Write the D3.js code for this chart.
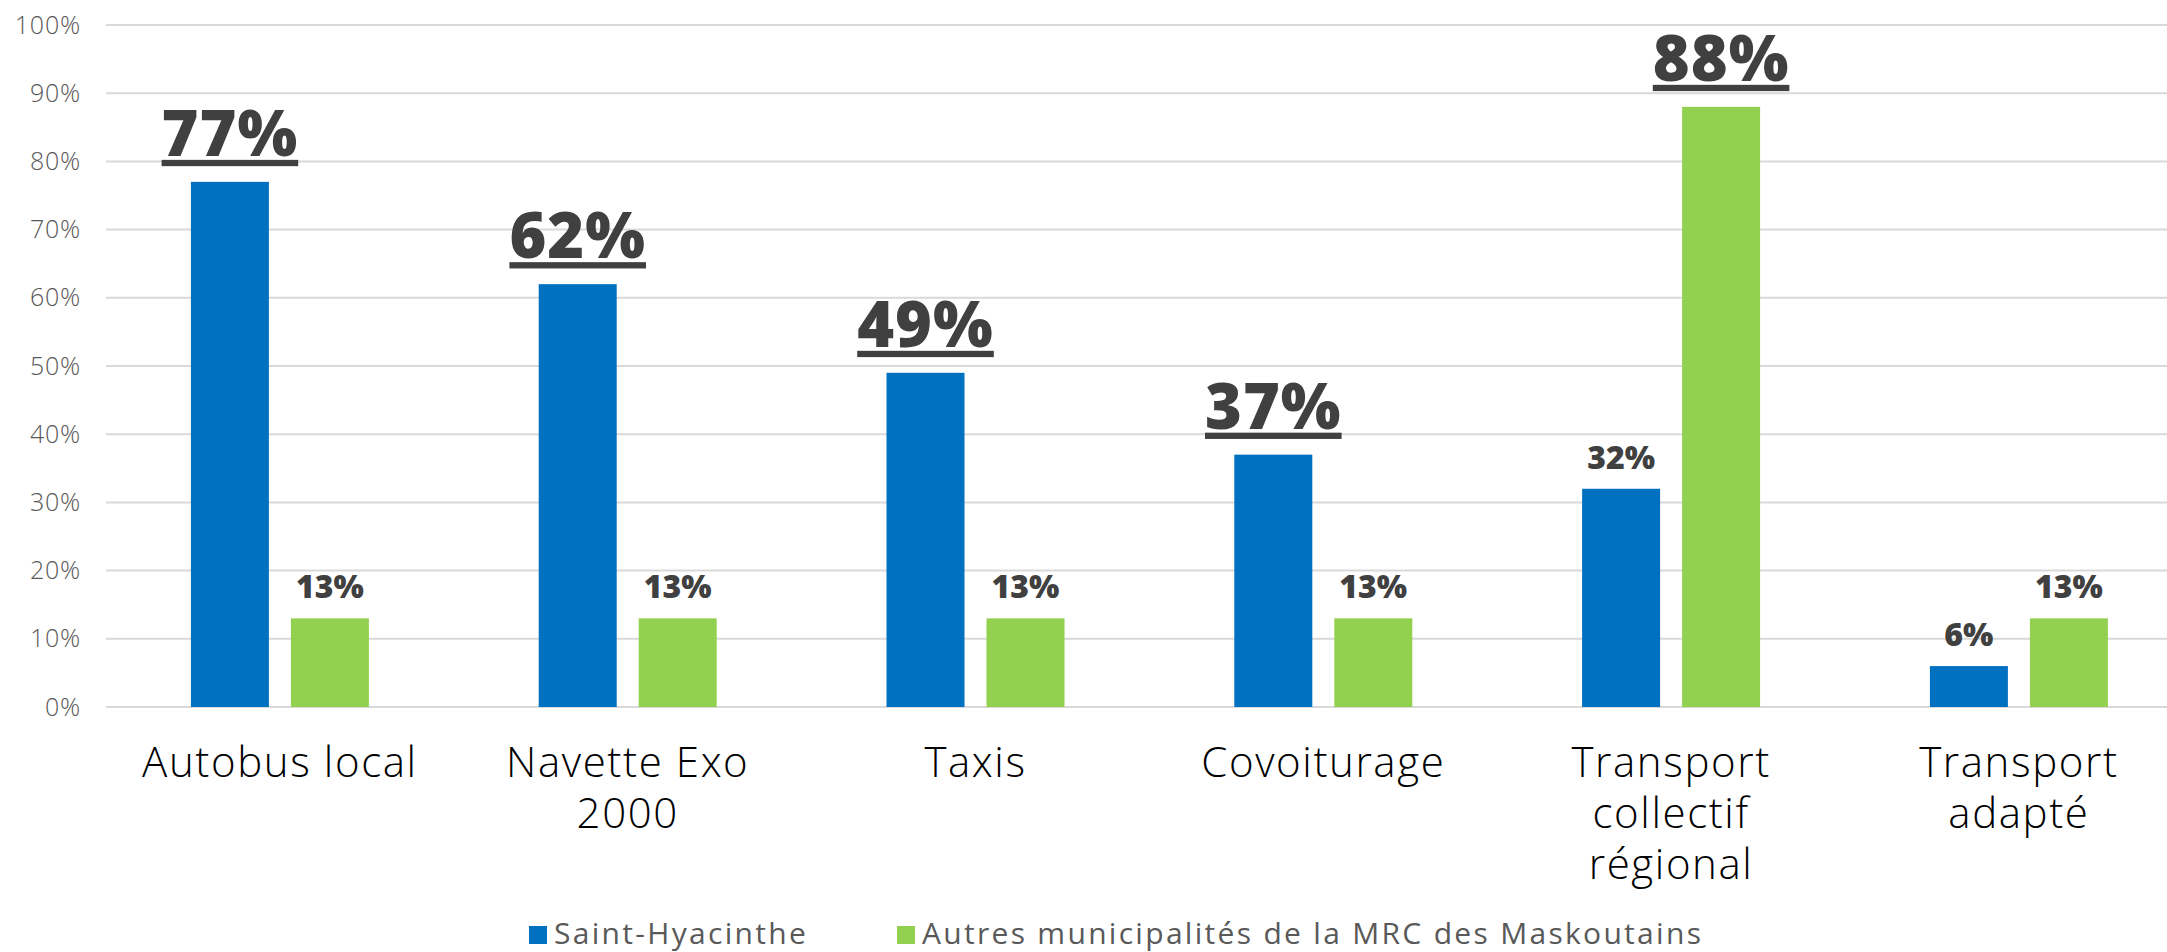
<!DOCTYPE html>
<html>
<head>
<meta charset="utf-8">
<script src="https://cdn.jsdelivr.net/npm/d3@7"></script>
<style>
  body { margin: 0; background: #fff; }
  svg { display: block; }
</style>
</head>
<body>
<div id="chart"></div>
<script>
// Data
const categories = [
  ['Autobus local'],
  ['Navette Exo', '2000'],
  ['Taxis'],
  ['Covoiturage'],
  ['Transport', 'collectif', 'régional'],
  ['Transport', 'adapté']
];
const seriesNames = ['Saint-Hyacinthe', 'Autres municipalités de la MRC des Maskoutains'];
const saintHyacinthe = [77, 62, 49, 37, 32, 6];
const autres = [13, 13, 13, 13, 88, 13];
// which labels are drawn big and underlined
const bigSH = [true, true, true, true, false, false];
const bigAutres = [false, false, false, false, true, false];
const yTicks = [0, 10, 20, 30, 40, 50, 60, 70, 80, 90, 100];
const colors = ['#0070C0', '#92D050'];

const width = 2167, height = 952;
const margin = { top: 25, left: 106, bottom: 245 };
const step = 347.8;

const svg = d3.select('#chart').append('svg')
  .attr('width', width)
  .attr('height', height);

const catKeys = categories.map(c => c.join(' '));

const x0 = d3.scaleBand()
  .domain(catKeys)
  .range([margin.left, margin.left + step * categories.length]);

const x1 = d3.scaleBand()
  .domain([0, 1])
  .range([(step - 178) / 2, (step + 178) / 2])
  .paddingInner(0.22);

const y = d3.scaleLinear()
  .domain([0, 100])
  .range([707, margin.top]);

// gridlines
svg.append('g')
  .selectAll('line')
  .data(yTicks)
  .join('line')
  .attr('x1', margin.left)
  .attr('x2', width)
  .attr('y1', d => y(d))
  .attr('y2', d => y(d))
  .attr('stroke', '#d9d9d9')
  .attr('stroke-width', 2);

// y axis labels
const yAxis = d3.axisLeft(y)
  .tickValues(yTicks)
  .tickSize(0)
  .tickPadding(0)
  .tickFormat(d => d + '%');

svg.append('g')
  .attr('transform', 'translate(81,0)')
  .call(yAxis)
  .call(g => g.select('.domain').remove())
  .call(g => g.selectAll('text')
    .attr('fill', '#595959')
    .attr('font-family', '"Open Sans", sans-serif')
    .attr('font-size', 25)
    .attr('font-weight', 300)
    .attr('letter-spacing', 0.8));

// bars
const rows = catKeys.map((k, i) => ({
  key: k,
  values: [
    { s: 0, v: saintHyacinthe[i], big: bigSH[i] },
    { s: 1, v: autres[i], big: bigAutres[i] }
  ]
}));

const groups = svg.append('g')
  .selectAll('g')
  .data(rows)
  .join('g')
  .attr('transform', d => `translate(${x0(d.key)},0)`);

groups.selectAll('rect')
  .data(d => d.values)
  .join('rect')
  .attr('x', d => x1(d.s))
  .attr('width', x1.bandwidth())
  .attr('y', d => y(d.v))
  .attr('height', d => y(0) - y(d.v))
  .attr('fill', d => colors[d.s]);

// value labels
groups.selectAll('text.val')
  .data(d => d.values)
  .join('text')
  .attr('class', 'val')
  .attr('x', d => x1(d.s) + x1.bandwidth() / 2)
  .attr('y', d => y(d.v) - (d.big ? 26 : 20))
  .attr('text-anchor', 'middle')
  .attr('fill', '#404040')
  .attr('font-family', '"Open Sans", sans-serif')
  .attr('font-weight', 800)
  .attr('font-size', d => d.big ? 63 : 32)
  .attr('letter-spacing', d => d.big ? 1 : 0)
  .attr('text-decoration', d => d.big ? 'underline' : null)
  .text(d => d.v + '%');

// category labels
const catLabels = svg.append('g')
  .selectAll('text')
  .data(categories)
  .join('text')
  .attr('text-anchor', 'middle')
  .attr('fill', '#000')
  .attr('font-family', '"Open Sans", sans-serif')
  .attr('font-weight', 300)
  .attr('font-size', 42)
  .attr('letter-spacing', 1.6)
  .attr('transform', (d, i) => `translate(${x0(catKeys[i]) + step / 2},777)`);

catLabels.selectAll('tspan')
  .data(d => d)
  .join('tspan')
  .attr('x', 0)
  .attr('dy', (d, i) => i === 0 ? 0 : 51)
  .text(d => d);

// legend
const legendX = [529, 897];
const legend = svg.append('g')
  .selectAll('g')
  .data(seriesNames)
  .join('g')
  .attr('transform', (d, i) => `translate(${legendX[i]},935)`);

legend.append('rect')
  .attr('x', 0)
  .attr('y', -9)
  .attr('width', 18)
  .attr('height', 18)
  .attr('fill', (d, i) => colors[i]);

legend.append('text')
  .attr('x', 25)
  .attr('y', 9)
  .attr('fill', '#595959')
  .attr('font-family', '"Open Sans", sans-serif')
  .attr('font-size', 30)
  .attr('letter-spacing', 2.3)
  .text(d => d);
</script>
</body>
</html>
